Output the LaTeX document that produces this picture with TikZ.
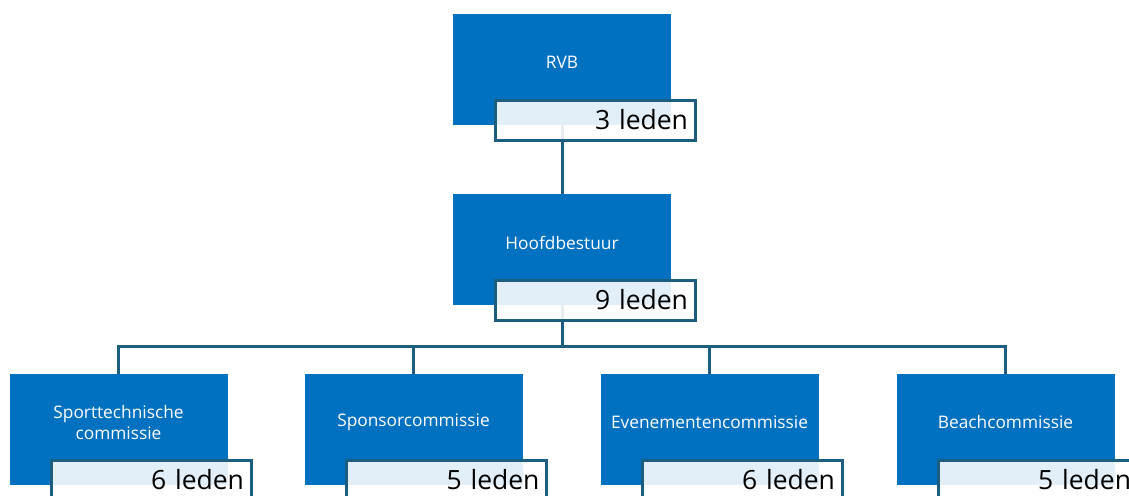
\documentclass[tikz,border=0pt]{standalone}
\usepackage{fontspec}
\setmainfont{Open Sans}
\definecolor{boxblue}{HTML}{0070C0}
\definecolor{linecol}{HTML}{1B5E80}
\begin{document}
\begin{tikzpicture}[x=1pt,y=-1pt,
  orgbox/.style={fill=boxblue, draw=none, minimum width=218pt, minimum height=111pt, inner sep=0pt},
  boxtext/.style={text=white, font=\fontsize{17.3}{21.5}\selectfont, align=center, inner sep=0pt},
  countbox/.style={draw=linecol, line width=3pt, fill=white, fill opacity=0.89, text opacity=1,
     minimum width=200pt, minimum height=40pt, inner xsep=7pt, inner ysep=0pt, text width=186pt,
     align=right, font=\fontsize{26.5}{30}\selectfont},
  conn/.style={draw=linecol, line width=3pt}]
\useasboundingbox (0,0) rectangle (1129,495);
% boxes
\node[orgbox] (rvb) at (562,69.5) {};
\node[boxtext] (rvbt) at ([yshift=7pt]rvb.center) {RVB};
\node[orgbox] (hb) at (562,249.5) {};
\node[boxtext] (hbt) at ([yshift=7pt]hb.center) {Hoofdbestuur};
\node[orgbox] (sp) at (118.5,429.5) {};
\node[boxtext] (spt) at ([yshift=7pt]sp.center) {Sporttechnische\\commissie};
\node[orgbox] (so) at (413.5,429.5) {};
\node[boxtext] (sot) at ([yshift=7pt]so.center) {Sponsorcommissie};
\node[orgbox] (ev) at (709.5,429.5) {};
\node[boxtext] (evt) at ([yshift=7pt]ev.center) {Evenementencommissie};
\node[orgbox] (be) at (1005.5,429.5) {};
\node[boxtext] (bet) at ([yshift=7pt]be.center) {Beachcommissie};
% connectors
\coordinate (bus) at (562,346);
\draw[conn] (rvb.south) -- (hb.north);
\draw[conn] (hb.south) -- (bus);
\draw[conn] (bus) -| (sp.north);
\draw[conn] (bus) -| (so.north);
\draw[conn] (bus) -| (ev.north);
\draw[conn] (bus) -| (be.north);
% count labels
\node[countbox] (rvbc) at (595,120) {3 leden};
\node[countbox] (hbc) at (595,300) {9 leden};
\node[countbox] (spc) at (151,480) {6 leden};
\node[countbox] (soc) at (446.5,480) {5 leden};
\node[countbox] (evc) at (742,480) {6 leden};
\node[countbox] (bec) at (1038,480) {5 leden};
\end{tikzpicture}
\end{document}
